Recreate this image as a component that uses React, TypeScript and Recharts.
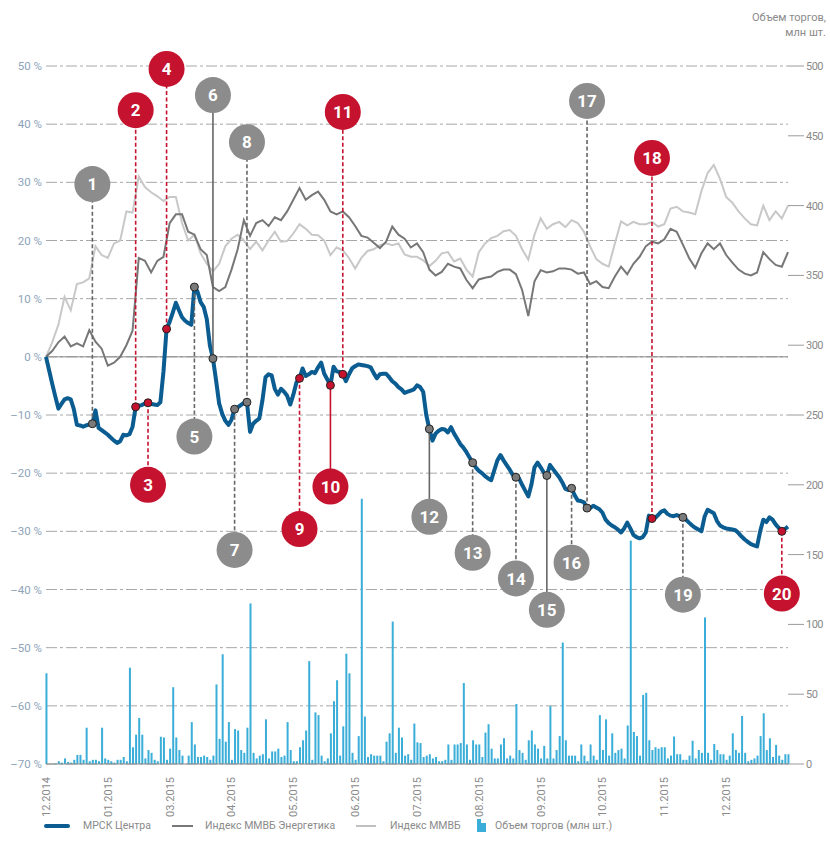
import React from 'react';
import {
  ComposedChart, Line, Bar, XAxis, YAxis, CartesianGrid, ReferenceLine, Scatter,
} from 'recharts';

// Month tick labels (one per 20 trading days), as printed in the source
const monthLabels = ['12.2014', '01.2015', '03.2015', '04.2015', '05.2015', '06.2015', '07.2015', '08.2015', '09.2015', '10.2015', '11.2015', '12.2015'];
const monthTicks = [0, 20, 40, 60, 80, 100, 120, 140, 160, 180, 200, 220, 240];
const leftTicks = [-70, -60, -50, -40, -30, -20, -10, 0, 10, 20, 30, 40, 50];
const rightTicks = [0, 50, 100, 150, 200, 250, 300, 350, 400, 450, 500];

// МРСК Центра, % change (one value per trading day, t = 0..240)
const mrsk = [
  0, -2.3, -4.6, -6.8, -8.9, -8.1, -7.3, -7.1, -7.3, -9.0,
  -11.7, -11.8, -12.0, -11.8, -11.6, -11.5, -9.2, -12.2, -12.6, -13.0,
  -13.4, -13.9, -14.4, -14.8, -14.5, -13.4, -13.5, -13.3, -12.0, -8.6,
  -8.4, -8.3, -8.0, -7.9, -8.1, -8.2, -8.3, -7.8, -2.5, 4.8,
  6.0, 7.6, 9.3, 8.0, 6.8, 6.2, 5.8, 5.5, 12.0, 11.2,
  9.4, 8.6, 6.5, 2.0, -0.3, -4.0, -8.0, -9.8, -11.0, -11.7,
  -10.8, -9.0, -8.7, -8.3, -7.9, -7.8, -12.9, -11.5, -11.0, -10.6,
  -7.5, -3.5, -3.0, -3.2, -5.5, -6.5, -5.5, -6.0, -6.7, -8.2,
  -6.5, -4.4, -3.7, -2.0, -3.3, -3.0, -2.6, -2.8, -1.8, -1.0,
  -2.9, -3.9, -4.9, -1.7, -2.5, -2.6, -3.0, -4.2, -3.0, -2.0,
  -1.6, -1.3, -1.4, -1.5, -1.6, -1.8, -2.8, -3.7, -3.0, -2.9,
  -2.9, -3.5, -4.2, -4.6, -5.2, -5.6, -6.2, -6.0, -5.8, -5.6,
  -4.9, -5.2, -6.0, -10.0, -12.4, -14.4, -13.2, -12.7, -12.4, -12.5,
  -13.0, -12.1, -13.2, -14.1, -15.0, -15.6, -16.4, -17.3, -18.2, -19.0,
  -19.6, -20.0, -20.5, -20.9, -21.2, -19.5, -17.8, -16.9, -17.8, -18.6,
  -19.4, -20.3, -20.7, -20.9, -22.0, -23.0, -24.0, -22.0, -19.0, -18.2,
  -19.0, -19.9, -20.4, -18.6, -19.3, -20.0, -20.7, -21.6, -22.7, -22.9,
  -22.6, -23.8, -24.7, -24.8, -25.0, -26.0, -26.0, -25.6, -25.9, -26.2,
  -26.8, -28.0, -28.6, -29.0, -29.3, -29.7, -30.2, -29.5, -28.5, -29.5,
  -30.6, -31.0, -31.2, -31.0, -30.2, -27.3, -27.8, -27.7, -27.2, -26.6,
  -26.4, -27.0, -27.3, -27.4, -27.2, -27.4, -27.6, -28.0, -28.5, -29.0,
  -29.4, -29.7, -30.0, -27.5, -26.3, -26.6, -26.9, -28.2, -29.0, -29.3,
  -29.5, -29.6, -29.7, -29.8, -30.3, -30.9, -31.4, -31.8, -32.2, -32.4,
  -32.6, -30.0, -28.0, -28.4, -27.6, -28.0, -28.8, -29.4, -30.0, -29.6,
  -29.2,
];

// Индекс ММВБ Энергетика, % change (every second trading day)
const energyIndex = [
  0, 1.0, 2.5, 3.5, 1.8, 2.3, 1.8, 4.6, 2.6, 1.4,
  -1.5, -1.0, 0, 2.0, 4.5, 17.0, 16.5, 14.5, 16.5, 17.2,
  23.0, 24.5, 24.5, 21.5, 21.0, 18.5, 17.5, 12.0, 11.3, 12.0,
  15.0, 18.5, 23.5, 20.8, 23.0, 23.5, 22.5, 24.0, 23.5, 25.0,
  27.0, 29.0, 27.0, 27.8, 28.4, 27.0, 25.0, 24.5, 25.0, 24.0,
  22.5, 20.8, 20.5, 19.6, 18.7, 19.8, 22.4, 21.0, 20.3, 18.8,
  19.5, 18.0, 15.0, 14.0, 14.6, 16.0, 15.5, 15.2, 13.2, 11.8,
  13.3, 13.6, 13.8, 14.6, 15.0, 15.0, 14.2, 11.5, 7.0, 13.0,
  14.9, 14.5, 14.7, 15.2, 15.2, 15.0, 14.3, 14.5, 12.5, 13.0,
  12.0, 11.8, 13.8, 15.5, 14.2, 16.0, 17.2, 19.0, 19.8, 19.5,
  20.2, 22.0, 21.5, 19.3, 17.0, 15.3, 17.8, 19.5, 18.5, 19.5,
  17.5, 16.2, 15.0, 14.3, 14.0, 14.5, 18.0, 16.8, 15.8, 15.5,
  18.0,
];

// Индекс ММВБ, % change (every second trading day)
const micexIndex = [
  0, 2.5, 5.5, 10.3, 8.0, 12.5, 12.8, 13.5, 19.0, 17.5,
  17.0, 19.5, 20.0, 25.0, 24.8, 31.0, 29.2, 28.3, 27.6, 26.8,
  27.5, 27.5, 23.0, 20.0, 21.0, 17.8, 16.0, 14.7, 16.0, 19.0,
  20.3, 21.0, 20.0, 18.5, 19.8, 18.3, 20.0, 21.5, 19.8, 19.9,
  21.2, 22.8, 22.0, 21.0, 20.9, 20.0, 17.5, 18.8, 18.3, 17.0,
  15.2, 17.0, 18.2, 18.5, 19.2, 19.5, 19.2, 19.5, 17.6, 17.2,
  17.2, 16.6, 15.6, 16.5, 17.8, 18.0, 16.4, 16.9, 15.0, 13.8,
  18.0, 19.5, 20.4, 20.8, 21.6, 21.8, 20.8, 18.5, 16.7, 21.0,
  23.8, 22.0, 22.8, 23.2, 22.3, 23.5, 23.0, 21.5, 19.0, 16.8,
  16.0, 15.5, 19.5, 23.3, 22.6, 23.2, 22.8, 22.8, 23.2, 22.4,
  22.8, 25.5, 25.8, 25.0, 24.8, 24.5, 28.5, 31.6, 33.0, 30.6,
  27.5, 26.5, 25.0, 23.8, 22.8, 22.6, 26.0, 23.5, 25.0, 23.8,
  26.0,
];

// Объем торгов, млн шт. (one value per trading day)
const volume = [
  65, 0, 0, 0.5, 2, 1, 4, 1.5, 1, 3,
  6.5, 6.5, 3, 26, 2, 3, 3, 2, 26, 4,
  3, 2, 1, 3, 3, 5, 2, 69, 12, 21,
  33, 21, 4, 10, 8, 3, 2, 19.5, 19, 3,
  11, 55, 19, 10, 6, 0, 6, 30, 14, 5,
  5, 6, 5, 3, 6, 57, 18, 78.6, 16, 30,
  3, 25, 24, 10, 8, 26, 115, 8, 4, 6,
  7, 32, 4, 9, 9, 11, 5, 6, 30, 10,
  2, 2, 12, 17, 24, 73.7, 3, 37, 35, 6,
  2, 4, 22, 45, 60, 6, 27, 79, 65, 8,
  3, 20, 190, 34, 5, 7, 6, 6, 6, 2,
  16, 22, 102, 8, 26, 19, 6, 7, 3, 29,
  15.5, 15, 5, 6, 7, 4, 5, 2, 2, 3,
  14, 3, 14, 14, 15, 58, 14, 3, 17, 14,
  14, 5, 22.5, 28.5, 11, 4, 4, 14, 18.5, 4,
  6, 4, 43, 10, 8, 3, 17, 24, 14, 11,
  4, 13, 4, 41.5, 4, 10, 20, 87, 17, 6,
  6, 6, 2, 14, 6, 2, 14, 6, 3, 35,
  10, 32, 6, 22, 8, 10, 11, 4, 27.6, 160,
  23, 20, 6, 49.5, 51, 17, 10, 12, 11, 12,
  12, 4, 6, 19.7, 7, 7, 3, 3, 6, 16.7,
  4, 10, 8, 105, 8, 3, 14.3, 10, 7, 7,
  3, 6, 22, 10, 8, 34.4, 8, 2, 3, 4,
  6, 20, 36.3, 10, 18.4, 5, 13.7, 6, 3, 7,
  7,
];

// Numbered events: trading day, label circle level (% axis), colour
const events = [
  { n: 1, t: 15, labelY: 29.7, red: false, solid: false },
  { n: 2, t: 29, labelY: 42.4, red: true, solid: false },
  { n: 3, t: 33, labelY: -22.0, red: true, solid: false },
  { n: 4, t: 39, labelY: 49.5, red: true, solid: false },
  { n: 5, t: 48, labelY: -13.7, red: false, solid: false },
  { n: 6, t: 54, labelY: 45.0, red: false, solid: true },
  { n: 7, t: 61, labelY: -33.2, red: false, solid: false },
  { n: 8, t: 65, labelY: 36.9, red: false, solid: false },
  { n: 9, t: 82, labelY: -29.6, red: true, solid: false },
  { n: 10, t: 92, labelY: -22.3, red: true, solid: true },
  { n: 11, t: 96, labelY: 42.1, red: true, solid: false },
  { n: 12, t: 124, labelY: -27.5, red: false, solid: true },
  { n: 13, t: 138, labelY: -33.7, red: false, solid: false },
  { n: 14, t: 152, labelY: -38.1, red: false, solid: false },
  { n: 15, t: 162, labelY: -43.5, red: false, solid: true },
  { n: 16, t: 170, labelY: -35.4, red: false, solid: false },
  { n: 17, t: 175, labelY: 44.0, red: false, solid: false },
  { n: 18, t: 196, labelY: 34.2, red: true, solid: false },
  { n: 19, t: 206, labelY: -40.9, red: false, solid: false },
  { n: 20, t: 238, labelY: -40.7, red: true, solid: false },
];

const RED = '#c4122f';
const GRAY = '#8c8c8c';
const BLUE = '#0b5c91';
const BAR = '#3aaed8';
const FONT = 'Roboto, "Open Sans", sans-serif';

const data = volume.map((v, t) => ({
  t,
  vol: v,
  mrsk: mrsk[t],
  energy: t % 2 === 0 ? energyIndex[t / 2] : null,
  micex: t % 2 === 0 ? micexIndex[t / 2] : null,
}));

const circleData = events.map((e) => ({ t: e.t, y: e.labelY, n: e.n, red: e.red }));
const markerData = events.map((e) => ({ t: e.t, y: mrsk[e.t], n: e.n, red: e.red }));

const fmtPct = (v: number) => (v < 0 ? '–' + Math.abs(v) : String(v)) + ' %';

const LeftTick = (props: any) => {
  const { x, y, payload } = props;
  return (
    <text x={x} y={y} dy={4} textAnchor="end" fontSize={11.5} fill="#8ea3b9" fontFamily={FONT}>
      {fmtPct(payload.value)}
    </text>
  );
};

const RightTick = (props: any) => {
  const { x, y, payload } = props;
  return (
    <text x={x} y={y} dy={4} textAnchor="start" fontSize={11} fill="#8a8a8a" fontFamily={FONT} letterSpacing={-0.5}>
      {payload.value}
    </text>
  );
};

const BottomTick = (props: any) => {
  const { x, y, payload } = props;
  const idx = monthTicks.indexOf(payload.value);
  return (
    <text
      transform={`translate(${x},${y + 5}) rotate(-90)`}
      textAnchor="end"
      dy="0.35em"
      fontSize={11}
      fill="#8a8a8a"
      fontFamily={FONT}
    >
      {monthLabels[idx]}
    </text>
  );
};

const EventCircle = (props: any) => {
  const { cx, cy, payload } = props;
  if (cx == null || cy == null) return null;
  return (
    <g>
      <circle cx={cx} cy={cy} r={18} fill={payload.red ? RED : GRAY} />
      <text x={cx} y={cy} dy="0.36em" textAnchor="middle" fill="#ffffff" fontSize={17} fontWeight={700} fontFamily={FONT}>
        {payload.n}
      </text>
    </g>
  );
};

const EventMarker = (props: any) => {
  const { cx, cy, payload } = props;
  if (cx == null || cy == null) return null;
  return <circle cx={cx} cy={cy} r={4} fill={payload.red ? RED : '#7a7a7a'} stroke="#222" strokeWidth={1} />;
};

export default function App() {
  return (
    <div style={{ position: 'absolute', left: 0, top: 0, width: 830, height: 845, background: '#fff', fontFamily: FONT }}>
      <div style={{ position: 'absolute', right: 4, top: 10, textAlign: 'right', fontSize: 11, lineHeight: '15px', color: '#8a8a8a' }}>
        Объем торгов,<br />млн шт.
      </div>
      <ComposedChart width={830} height={845} data={data} margin={{ top: 66, right: 0, bottom: 0, left: 0 }}>
        <CartesianGrid yAxisId="left" vertical={false} stroke="#a8a8a8" strokeDasharray="11 3 3 3" />
        <XAxis
          type="number"
          dataKey="t"
          domain={[0, 240]}
          ticks={monthTicks}
          interval={0}
          tick={<BottomTick />}
          tickLine={false}
          axisLine={{ stroke: '#8a8a8a' }}
          height={81}
        />
        <YAxis
          yAxisId="left"
          orientation="left"
          type="number"
          domain={[-70, 50]}
          ticks={leftTicks}
          interval={0}
          width={46}
          tick={<LeftTick />}
          tickLine={false}
          tickSize={2}
          tickMargin={2}
          axisLine={false}
        />
        <YAxis
          yAxisId="right"
          orientation="right"
          type="number"
          domain={[0, 500]}
          ticks={rightTicks}
          interval={0}
          width={42}
          tick={<RightTick />}
          tickLine={{ stroke: '#9a9a9a' }}
          tickSize={16}
          tickMargin={2}
          axisLine={false}
        />
        <ReferenceLine yAxisId="left" y={0} stroke="#8a8a8a" strokeWidth={1} />
        <Bar yAxisId="right" dataKey="vol" fill={BAR} barSize={2} isAnimationActive={false} />
        <Line yAxisId="left" type="linear" dataKey="micex" stroke="#c8c8c8" strokeWidth={2} dot={false} connectNulls isAnimationActive={false} />
        <Line yAxisId="left" type="linear" dataKey="energy" stroke="#777777" strokeWidth={2} dot={false} connectNulls isAnimationActive={false} />
        <Line yAxisId="left" type="linear" dataKey="mrsk" stroke={BLUE} strokeWidth={4} strokeLinejoin="round" dot={false} isAnimationActive={false} />
        {events.map((e) => (
          <ReferenceLine
            key={'seg' + e.n}
            yAxisId="left"
            segment={[{ x: e.t, y: mrsk[e.t] }, { x: e.t, y: e.labelY }]}
            stroke={e.red ? RED : '#666666'}
            strokeWidth={1.6}
            strokeDasharray={e.solid ? undefined : '4 2.5'}
          />
        ))}
        <Scatter yAxisId="left" data={circleData} dataKey="y" shape={<EventCircle />} isAnimationActive={false} />
        <Scatter yAxisId="left" data={markerData} dataKey="y" shape={<EventMarker />} isAnimationActive={false} />
      </ComposedChart>
      <div style={{ position: 'absolute', left: 0, top: 820, width: 830, height: 14, fontSize: 10.5, lineHeight: '12px', color: '#8a8a8a' }}>
        <span style={{ position: 'absolute', left: 44, top: 4, width: 26, height: 4, background: BLUE, borderRadius: 2 }} />
        <span style={{ position: 'absolute', left: 83, top: 0 }}>МРСК Центра</span>
        <span style={{ position: 'absolute', left: 172, top: 5, width: 21, height: 1.5, background: '#777' }} />
        <span style={{ position: 'absolute', left: 205, top: 0 }}>Индекс ММВБ Энергетика</span>
        <span style={{ position: 'absolute', left: 356, top: 5, width: 20, height: 1.5, background: '#c0c0c0' }} />
        <span style={{ position: 'absolute', left: 390, top: 0 }}>Индекс ММВБ</span>
        <span style={{ position: 'absolute', left: 477, top: -1, width: 4, height: 13, background: BAR }} />
        <span style={{ position: 'absolute', left: 481, top: 3, width: 5, height: 9, background: BAR }} />
        <span style={{ position: 'absolute', left: 495, top: 0 }}>Объем торгов (млн шт.)</span>
      </div>
    </div>
  );
}
